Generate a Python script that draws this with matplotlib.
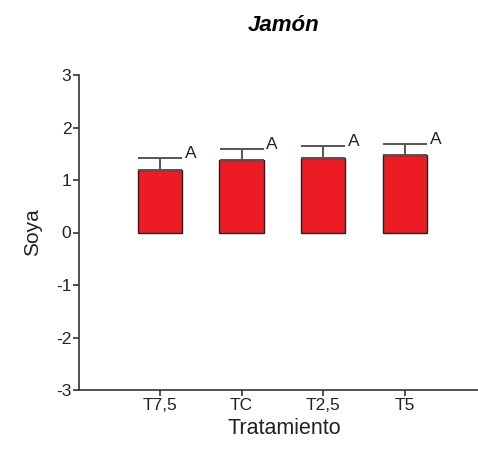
import matplotlib.pyplot as plt

plt.rcParams['font.family'] = ['Liberation Sans', 'DejaVu Sans']
plt.rcParams['axes.unicode_minus'] = False

# Soya score per treatment (mean and upper error)
tratamientos = ["T7,5", "TC", "T2,5", "T5"]
medias = [1.20, 1.39, 1.42, 1.48]
errores = [0.22, 0.21, 0.23, 0.21]
grupos = ["A", "A", "A", "A"]

fig = plt.figure(figsize=(4.78, 4.54), dpi=100)
ax = fig.add_axes([79 / 478, 64 / 454, 410 / 478, 315 / 454])

pos = range(len(tratamientos))
ax.bar(pos, medias, width=0.54, color="#ed1c24", edgecolor="#222222", linewidth=1.0,
       yerr=[[0] * len(errores), errores],
       error_kw=dict(ecolor="#555555", elinewidth=1.4, capsize=15.8, capthick=1.4),
       zorder=2)

for i, (m, e, g) in enumerate(zip(medias, errores, grupos)):
    ax.annotate(g, (i + 0.27, m + e), xytext=(2, 3), textcoords="offset points",
                ha="left", va="center", fontsize=12.5, color="#222222")

ax.set_xlim(-0.99, 4.03)
ax.set_ylim(-3, 3)
ax.set_yticks(range(-3, 4))
ax.set_xticks(list(pos))
ax.set_xticklabels(tratamientos)

for s in ["top", "right"]:
    ax.spines[s].set_visible(False)
for s in ["left", "bottom"]:
    ax.spines[s].set_color("#333333")
    ax.spines[s].set_linewidth(1.2)
ax.tick_params(direction="out", length=4, width=1.2, color="#333333",
               labelsize=12.5, labelcolor="#222222", pad=1.5)

ax.set_ylabel("Soya", fontsize=15, color="#222222", labelpad=10)
ax.set_xlabel("Tratamiento", fontsize=15.5, color="#222222", labelpad=4,
              x=(284 - 79) / 410)
ax.set_title("Jamón", fontsize=16, fontweight="bold", fontstyle="italic",
             x=(284 - 79) / 410, pad=32)

plt.savefig("out.png", dpi=100)
